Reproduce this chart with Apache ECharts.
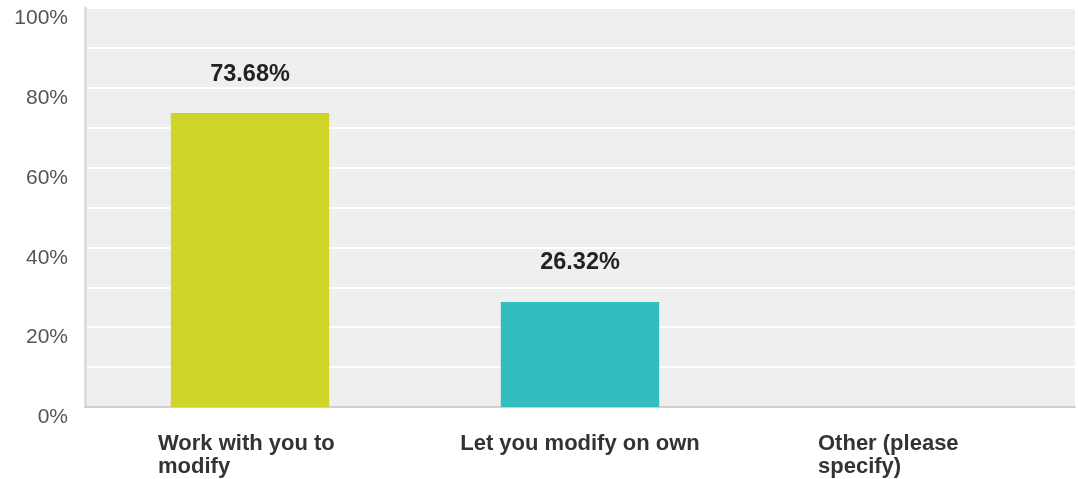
<!DOCTYPE html>
<html>
<head>
<meta charset="utf-8">
<script src="https://cdn.jsdelivr.net/npm/echarts@6/dist/echarts.min.js"></script>
<style>
  html, body { margin: 0; padding: 0; background: #ffffff; }
  #chart { width: 1078px; height: 479px; }
</style>
</head>
<body>
<div id="chart"></div>
<script>
// Answer choices (line breaks where the labels wrap)
const categories = ['Work with you to\nmodify', 'Let you modify on own', 'Other (please\nspecify)'];
// Share of responses, percent
const values = [73.68, 26.32, 0];
const barColors = ['#cfd428', '#33bdbf', '#9e9e9e'];
// Labelled ticks on the value axis
const yTickLabels = [0, 20, 40, 60, 80, 100];

const chart = echarts.init(document.getElementById('chart'));

chart.setOption({
  animation: false,
  grid: {
    left: 85, right: 3, top: 8, bottom: 72,
    show: true, backgroundColor: '#efefef', borderWidth: 0
  },
  xAxis: {
    type: 'category',
    data: categories,
    axisTick: { show: false },
    axisLine: { show: true, lineStyle: { color: '#cfcfcf', width: 2 } },
    axisLabel: {
      interval: 0,
      margin: 25,
      formatter: v => v.indexOf('\n') >= 0 ? '{w|' + v + '}' : '{s|' + v + '}',
      rich: {
        w: { width: 184, align: 'left', fontFamily: 'Liberation Sans, Arial, sans-serif', fontSize: 22, fontWeight: 'bold', lineHeight: 23, color: '#333333' },
        s: { fontFamily: 'Liberation Sans, Arial, sans-serif', fontSize: 22, fontWeight: 'bold', lineHeight: 23, color: '#333333' }
      }
    }
  },
  yAxis: {
    type: 'value',
    min: 0, max: 100, interval: 10,
    axisLine: { show: true, lineStyle: { color: '#dedede', width: 3 } },
    axisTick: { show: false },
    splitLine: { show: true, lineStyle: { color: '#ffffff', width: 2 } },
    axisLabel: {
      margin: 17,
      verticalAlign: 'top',
      lineHeight: 21,
      fontFamily: 'Liberation Sans, Arial, sans-serif',
      fontSize: 21,
      color: '#555555',
      formatter: v => yTickLabels.indexOf(v) >= 0 ? v + '%' : ''
    }
  },
  series: [{
    type: 'bar',
    data: values.map((v, i) => ({
      value: v,
      itemStyle: { color: barColors[i] },
      label: { show: v > 0 }
    })),
    barWidth: '48%',
    label: {
      position: 'top',
      distance: 27,
      formatter: p => p.value.toFixed(2) + '%',
      fontFamily: 'Liberation Sans, Arial, sans-serif',
      fontSize: 23.5,
      fontWeight: 'bold',
      color: '#222222'
    }
  }]
});
</script>
</body>
</html>
